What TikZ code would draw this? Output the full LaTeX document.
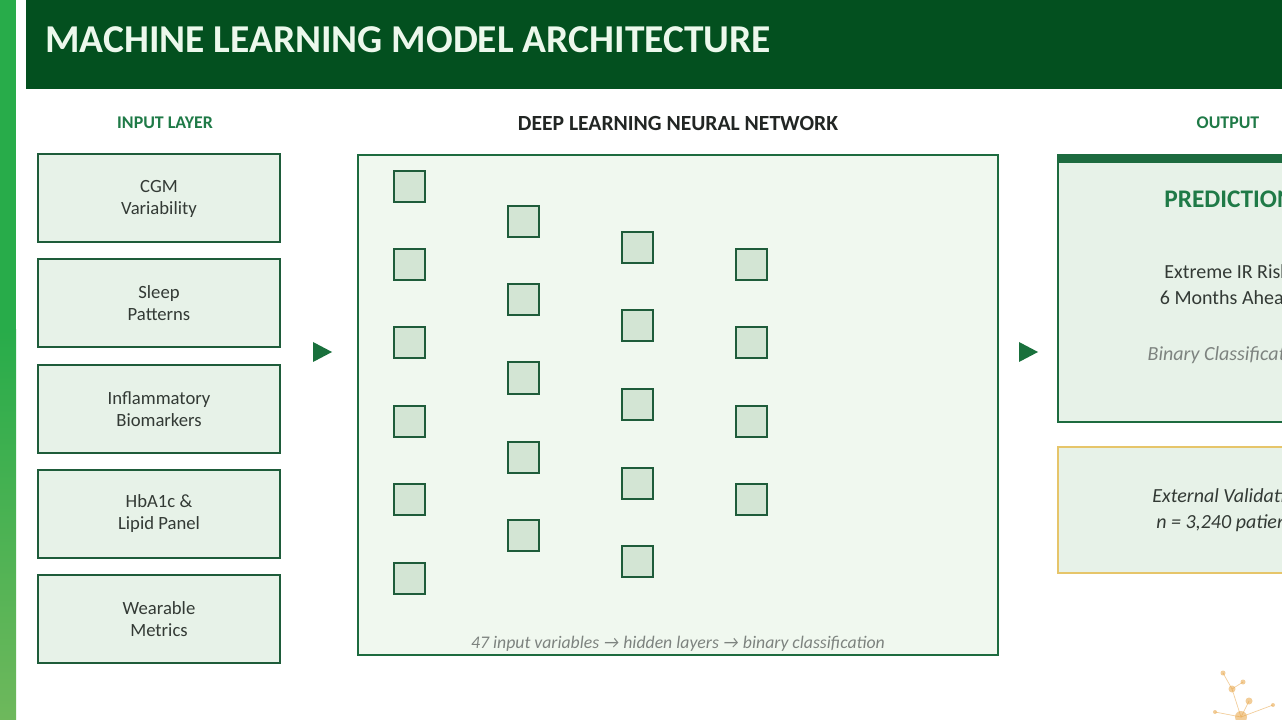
\documentclass[tikz,border=0pt]{standalone}
\usepackage{fontspec}
\setmainfont{Carlito}
\definecolor{hdrgreen}{HTML}{03501F}
\definecolor{txtgreen}{HTML}{1F7A47}
\definecolor{boxborder}{HTML}{1E5C3A}
\definecolor{boxfill}{HTML}{E7F2E8}
\definecolor{netfill}{HTML}{F0F8EF}
\definecolor{netborder}{HTML}{1D6B3F}
\definecolor{sqfill}{HTML}{D3E5D4}
\definecolor{darktxt}{HTML}{333A35}
\definecolor{graytxt}{HTML}{7D837F}
\definecolor{goldline}{HTML}{E6C56A}
\definecolor{dotorange}{HTML}{E8A445}
\definecolor{arrgreen}{HTML}{19703C}
\definecolor{stripA}{HTML}{28AC4A}
\definecolor{stripB}{HTML}{6EB85C}
\definecolor{titletxt}{HTML}{ECF8EC}
\definecolor{nettxt}{HTML}{222624}
\newcommand{\PX}{0.75pt}
\tikzset{
  inbox/.style={draw=boxborder, line width=1.5pt, fill=boxfill, minimum width=242*\PX, minimum height=88*\PX, inner sep=0pt, align=center, text=darktxt, font=\fontsize{14pt}{16.5pt}\selectfont},
  neuron/.style={draw=boxborder, line width=1.5pt, fill=sqfill, minimum width=31*\PX, minimum height=31*\PX, inner sep=0pt},
  seclabel/.style={font=\bfseries\fontsize{13.4pt}{15pt}\selectfont, inner sep=0pt},
  tri/.style={fill=arrgreen},
}
\begin{document}
\begin{tikzpicture}[x=0.75pt, y=-0.75pt]
\useasboundingbox (0,0) rectangle (1282,720);
\begin{scope}
\clip (0,0) rectangle (1282,720);
\fill[white] (0,0) rectangle (1282,720);
% left strip
\fill[stripA] (0,0) rectangle (16,330);
\shade[top color=stripA, bottom color=stripB] (0,330) rectangle (16,720);
% header
\fill[hdrgreen] (26,0) rectangle (1282,89);
\node[anchor=west, inner sep=0pt, text=titletxt, font=\bfseries\fontsize{29.6pt}{32pt}\selectfont] (title) at (45,40) {MACHINE LEARNING MODEL ARCHITECTURE};
% section labels
\node[seclabel, text=txtgreen] (lblin) at (165,123) {INPUT LAYER};
\node[seclabel, text=nettxt, font=\bfseries\fontsize{16.2pt}{18pt}\selectfont] (lblnet) at (678,123) {DEEP LEARNING NEURAL NETWORK};
\node[seclabel, text=txtgreen] (lblout) at (1228,123) {OUTPUT};
% input boxes
\node[inbox] (in1) at (159,198.5) {CGM\\Variability};
\node[inbox] (in2) at (159,303.5) {Sleep\\Patterns};
\node[inbox] (in3) at (159,409) {Inflammatory\\Biomarkers};
\node[inbox] (in4) at (159,514) {HbA1c \&\\Lipid Panel};
\node[inbox] (in5) at (159,619) {Wearable\\Metrics};
% arrows
\fill[tri] (313,342) -- (332,352) -- (313,362) -- cycle;
\fill[tri] (1019,342) -- (1038,352) -- (1019,362) -- cycle;
% network box
\node[draw=netborder, line width=1.5pt, fill=netfill, minimum width=640*\PX, minimum height=500*\PX, inner sep=0pt] (net) at (678,405) {};
% neurons
\foreach \y [count=\i] in {187,265,343,421,499,578} \node[neuron] (a\i) at (409,\y) {};
\foreach \y [count=\i] in {222,300,378,457,535} \node[neuron] (b\i) at (523,\y) {};
\foreach \y [count=\i] in {248,326,404,483,561} \node[neuron] (c\i) at (637,\y) {};
\foreach \y [count=\i] in {265,343,421,499} \node[neuron] (d\i) at (751,\y) {};
\node[text=graytxt, font=\itshape\fontsize{13.3pt}{15pt}\selectfont, inner sep=0pt] (cap) at (678,644) {47 input variables → hidden layers → binary classification};
% output box
\node[draw=netborder, line width=1.5pt, fill=boxfill, minimum width=342*\PX, minimum height=267*\PX, inner sep=0pt] (pred) at (1229,288.5) {};
\fill[netborder] (1058,155) rectangle (1400,163);
\node[text=txtgreen, font=\bfseries\fontsize{19pt}{22pt}\selectfont, inner sep=0pt] (predt) at (1229,199) {PREDICTION};
\node[text=darktxt, align=center, font=\fontsize{15pt}{19.5pt}\selectfont, inner sep=0pt] (predd) at (1227,285) {Extreme IR Risk\\6 Months Ahead};
\node[text=graytxt, font=\itshape\fontsize{15pt}{17pt}\selectfont, inner sep=0pt] (predc) at (1229,355) {Binary Classification};
% validation box
\node[draw=goldline, line width=1.5pt, fill=boxfill, minimum width=342*\PX, minimum height=126*\PX, inner sep=0pt] (val) at (1229,510) {};
\node[text=darktxt, align=center, font=\itshape\fontsize{15pt}{19.5pt}\selectfont, inner sep=0pt] (valt) at (1229,510) {External Validation\\n = 3,240 patients};
% decoration
\begin{scope}[dotorange, opacity=0.55, line width=0.5pt]
\draw (1223,673) -- (1232,689) -- (1243,682);
\draw (1232,689) -- (1241,717) -- (1249,701);
\draw (1241,717) -- (1273,705);
\draw (1241,717) -- (1215,712);
\fill (1223,673) circle (2.5);
\fill (1243,682) circle (2.5);
\fill (1232,689) circle (3.5);
\fill (1249,701) circle (3.5);
\fill (1241,717) circle (6);
\fill (1273,705) circle (2);
\fill (1215,712) circle (2);
\end{scope}
\end{scope}
\end{tikzpicture}
\end{document}
